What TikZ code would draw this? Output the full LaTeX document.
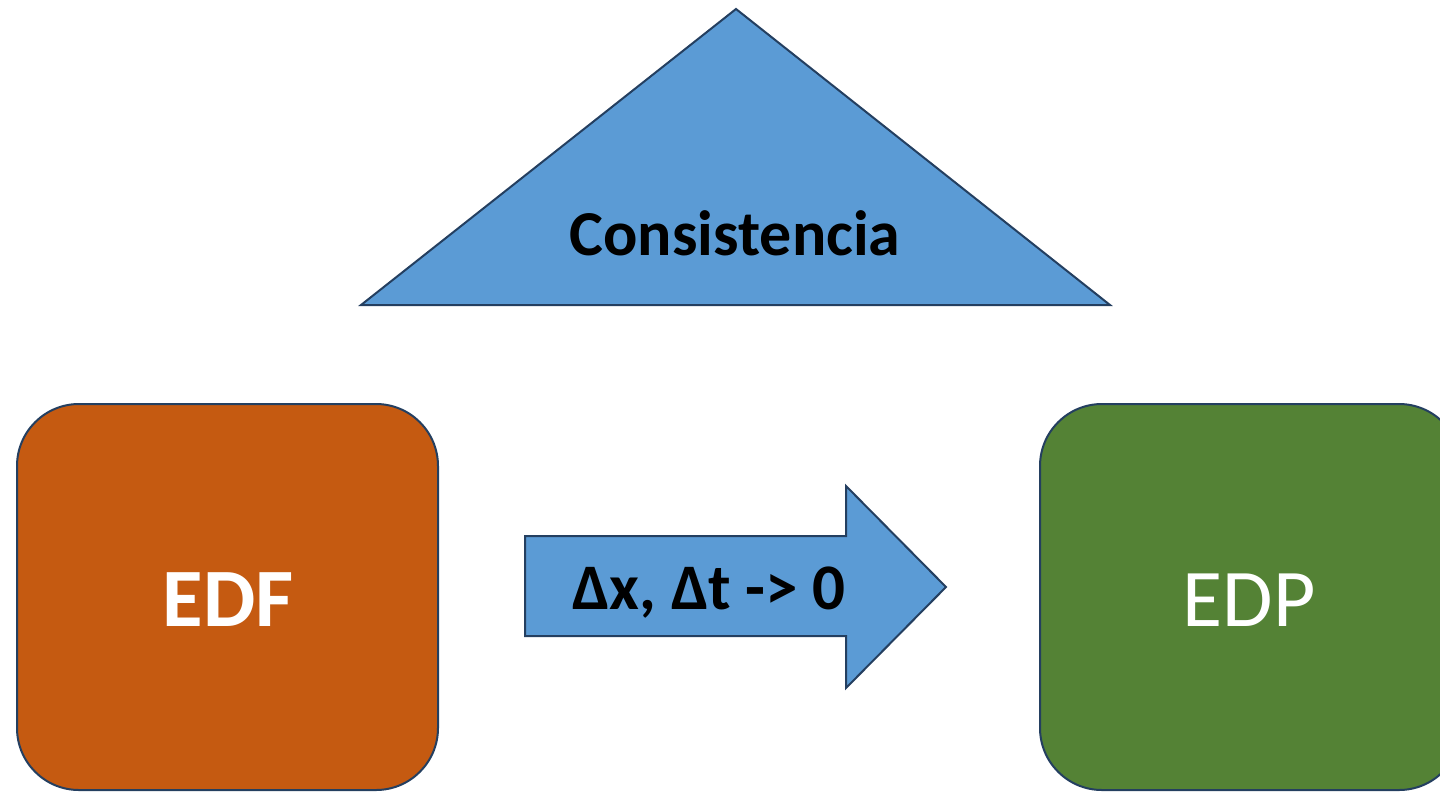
\documentclass[tikz,border=0pt]{standalone}
\usepackage{fontspec}
\setmainfont{Carlito}
\definecolor{edge}{HTML}{243F60}
\definecolor{blueF}{HTML}{5B9BD5}
\definecolor{orangeF}{HTML}{C55A11}
\definecolor{greenF}{HTML}{548235}
\tikzset{
  shapeline/.style={draw=edge, line width=2pt, line join=miter},
  lbl/.style={anchor=base, inner sep=0pt, outer sep=0pt},
}
\begin{document}
\begin{tikzpicture}[x=1pt,y=-1pt]
\useasboundingbox (0,0) rectangle (1440,793);
\clip (0,0) rectangle (1440,793);
% triangle
\draw[shapeline, fill=blueF] (736,9) -- (1110,305) -- (361,305) -- cycle;
\node[lbl] (cons) at (735,255) {\fontsize{64}{77}\selectfont\bfseries Consistencia};
% boxes
\draw[shapeline, fill=orangeF, rounded corners=62pt] (17,404) rectangle (438,790);
\node[lbl, text=white] (edf) at (228,626) {\fontsize{83}{99}\selectfont\bfseries EDF};
\draw[shapeline, fill=greenF, rounded corners=62pt] (1040,404) rectangle (1461,790);
\node[lbl, text=white] (edp) at (1249,626) {\fontsize{82}{98}\selectfont EDP};
% arrow
\draw[shapeline, fill=blueF] (525,536) -- (846,536) -- (846,486) -- (946,587) -- (846,688) -- (846,636) -- (525,636) -- cycle;
\node[lbl] (lim) at (709,609) {\fontsize{65}{78}\selectfont\bfseries Δx, Δt -> 0};
\end{tikzpicture}
\end{document}
